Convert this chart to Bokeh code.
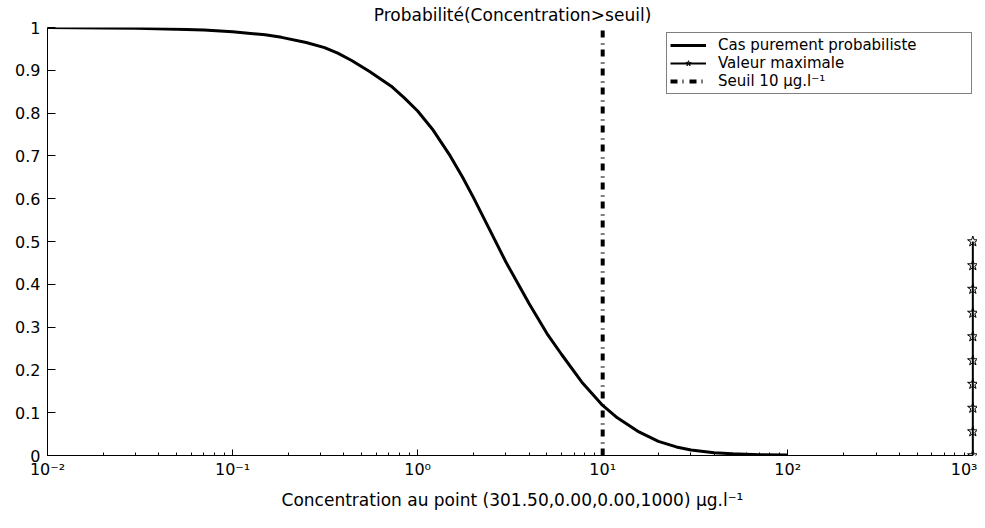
from bokeh.plotting import figure
from bokeh.models import Range1d, FixedTicker, LogTicker, CustomJSTickFormatter, Legend, LegendItem
from bokeh.embed import file_html
from bokeh.resources import INLINE

# ---- data ----
conc = [0.01, 0.02, 0.03, 0.05, 0.07, 0.1, 0.15, 0.184, 0.25, 0.314, 0.37, 0.44,
        0.55, 0.72, 0.85, 1.0, 1.2, 1.5, 1.75, 2.0, 2.5, 3.0, 3.5, 4.0, 5.0, 6.0, 7.7, 10.0,
        12.0, 15.7, 20.0, 25.0, 30.0, 40.0, 50.0, 70.0, 100.0]
prob = [1.0, 0.999, 0.998, 0.996, 0.994, 0.99, 0.983, 0.977, 0.965, 0.953, 0.94, 0.923,
        0.897, 0.863, 0.835, 0.805, 0.763, 0.70, 0.65, 0.603, 0.52, 0.452, 0.40, 0.355, 0.285, 0.236,
        0.172, 0.117, 0.088, 0.055, 0.033, 0.02, 0.013, 0.0065, 0.004, 0.002, 0.001]
valeur_max = 1000.0
max_probs = [0.0, 0.056, 0.111, 0.167, 0.222, 0.278, 0.333, 0.389, 0.444, 0.5]
seuil = 10.0
seuil_probs = [0.0, 1.0]
y_ticks = [0, 0.1, 0.2, 0.3, 0.4, 0.5, 0.6, 0.7, 0.8, 0.9, 1.0]
x_min, x_max = 0.01, 1000.0

title = "Probabilité(Concentration>seuil)"
x_label = "Concentration au point (301.50,0.00,0.00,1000) μg.l⁻¹"
labels = ["Cas purement probabiliste", "Valeur maximale", "Seuil 10 μg.l⁻¹"]

FONT = "DejaVu Sans"

# x range extends a little past 10^3 so that the star markers are not clipped;
# the axis line itself is bounded to [10^-2, 10^3].
p = figure(width=977, height=512, x_axis_type="log",
           x_range=Range1d(x_min, 1060), y_range=Range1d(0, 1),
           output_backend="svg", toolbar_location=None,
           min_border_left=47, min_border_right=0, min_border_top=0, min_border_bottom=54)

p.title.text = title
p.title.align = "center"
p.title.offset = -3
p.title.text_font = FONT
p.title.text_font_size = "17px"
p.title.text_font_style = "normal"
p.title.text_color = "black"
p.title.text_line_height = 0.8
p.title.standoff = 5

p.outline_line_color = None
p.xgrid.visible = False
p.ygrid.visible = False

# curve
r1 = p.line(conc, prob, line_color="black", line_width=3)
# maximum value
r2a = p.line([valeur_max] * len(max_probs), max_probs, line_color="black", line_width=2)
r2b = p.scatter([valeur_max] * len(max_probs), max_probs, marker="star", size=11,
                line_color="black", line_width=1, fill_color=None)
# threshold
r3 = p.line([seuil, seuil], seuil_probs, line_color="black", line_width=4,
            line_dash="7 5 1 6")

# axes
for ax in (p.xaxis[0], p.yaxis[0]):
    ax.axis_line_color = "black"
    ax.major_tick_line_color = "black"
    ax.minor_tick_line_color = "black"
    ax.major_tick_out = 0
    ax.minor_tick_out = 0
    ax.major_label_text_font = FONT
    ax.major_label_text_font_size = "16px"
    ax.major_label_text_color = "black"

p.xaxis.bounds = (x_min, x_max)
p.xaxis.ticker = LogTicker(num_minor_ticks=10)
p.xaxis.major_tick_in = 6
p.xaxis.minor_tick_in = 3
p.xaxis.major_label_standoff = 4
p.xaxis.formatter = CustomJSTickFormatter(code="""
const sup = {'-':'\u207b','0':'\u2070','1':'\u00b9','2':'\u00b2','3':'\u00b3','4':'\u2074',
             '5':'\u2075','6':'\u2076','7':'\u2077','8':'\u2078','9':'\u2079'};
const e = Math.round(Math.log10(tick)).toString();
let s = '';
for (const c of e) { s += sup[c]; }
return '10' + s;
""")
p.xaxis.axis_label = x_label
p.xaxis.axis_label_text_font = FONT
p.xaxis.axis_label_text_font_size = "17px"
p.xaxis.axis_label_text_font_style = "normal"
p.xaxis.axis_label_text_color = "black"
p.xaxis.axis_label_standoff = 8

p.yaxis.ticker = FixedTicker(ticks=y_ticks, minor_ticks=[])
p.yaxis.major_tick_in = 8
p.yaxis.minor_tick_in = 0
p.yaxis.major_label_standoff = 7
p.yaxis.formatter = CustomJSTickFormatter(code="return (Math.round(tick*10)/10).toString();")

legend = Legend(items=[LegendItem(label=labels[0], renderers=[r1]),
                       LegendItem(label=labels[1], renderers=[r2a, r2b]),
                       LegendItem(label=labels[2], renderers=[r3])],
                location="top_right",
                border_line_color="black", border_line_width=1,
                background_fill_color="white", background_fill_alpha=1,
                label_text_font=FONT, label_text_font_size="15px", label_text_color="black",
                glyph_width=36, glyph_height=14, label_height=14, label_width=250, spacing=0,
                padding=3, margin=5, label_standoff=12)
p.add_layout(legend)

open("out.html", "w").write(file_html(p, INLINE))
